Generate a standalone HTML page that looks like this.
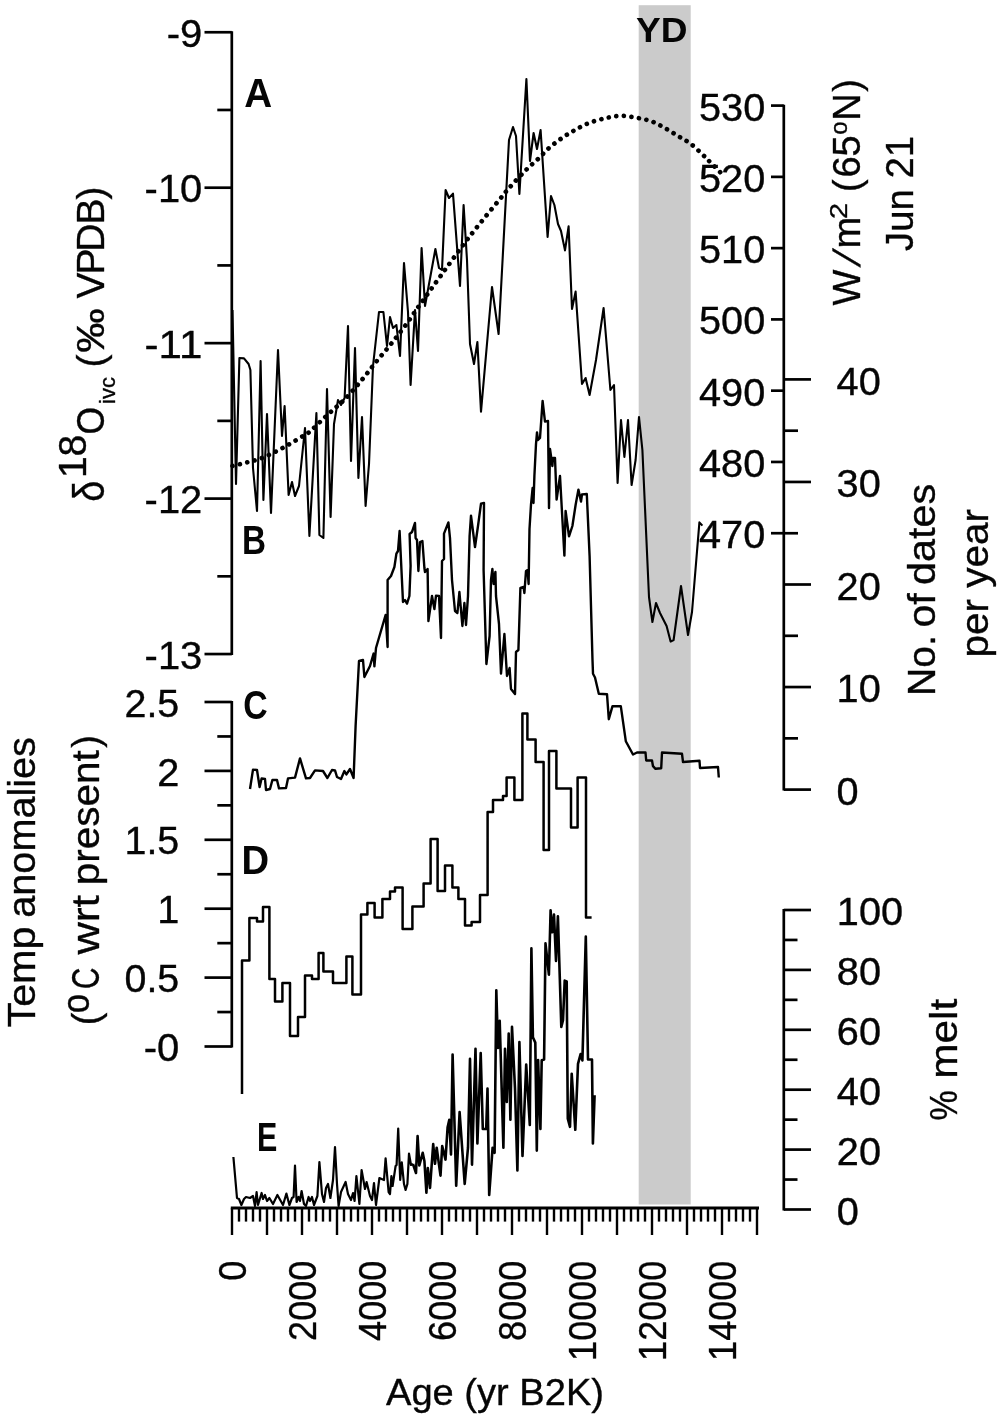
<!DOCTYPE html>
<html lang="en"><head><meta charset="utf-8"><title>Holocene climate records</title>
<style>html,body{margin:0;padding:0;background:#fff}svg{display:block}text{font-family:"Liberation Sans",sans-serif;fill:#050505;stroke:#050505;stroke-width:.35px}.b{stroke-width:0}.b{font-weight:bold}.ln{fill:none;stroke:#000;stroke-linejoin:round;stroke-linecap:butt}.ax{stroke:#000;stroke-width:2.7;fill:none;stroke-linecap:butt}</style>
</head><body>
<svg width="1000" height="1418" viewBox="0 0 1000 1418">
<rect width="1000" height="1418" fill="#fff"/>
<rect x="638.7" y="5.2" width="52" height="1199.3" fill="#cbcbcb"/>
<line class="ax" x1="231.80" y1="31.20" x2="231.80" y2="655.00"/>
<line class="ax" x1="204.50" y1="32.25" x2="231.80" y2="32.25"/>
<line class="ax" x1="217.30" y1="109.97" x2="231.80" y2="109.97"/>
<line class="ax" x1="204.50" y1="187.70" x2="231.80" y2="187.70"/>
<line class="ax" x1="217.30" y1="265.42" x2="231.80" y2="265.42"/>
<line class="ax" x1="204.50" y1="343.15" x2="231.80" y2="343.15"/>
<line class="ax" x1="217.30" y1="420.88" x2="231.80" y2="420.88"/>
<line class="ax" x1="204.50" y1="498.60" x2="231.80" y2="498.60"/>
<line class="ax" x1="217.30" y1="576.32" x2="231.80" y2="576.32"/>
<line class="ax" x1="204.50" y1="654.05" x2="231.80" y2="654.05"/>
<line class="ax" x1="231.80" y1="701.00" x2="231.80" y2="1047.60"/>
<line class="ax" x1="204.50" y1="702.00" x2="231.80" y2="702.00"/>
<line class="ax" x1="217.30" y1="736.45" x2="231.80" y2="736.45"/>
<line class="ax" x1="204.50" y1="770.90" x2="231.80" y2="770.90"/>
<line class="ax" x1="217.30" y1="805.35" x2="231.80" y2="805.35"/>
<line class="ax" x1="204.50" y1="839.80" x2="231.80" y2="839.80"/>
<line class="ax" x1="217.30" y1="874.25" x2="231.80" y2="874.25"/>
<line class="ax" x1="204.50" y1="908.70" x2="231.80" y2="908.70"/>
<line class="ax" x1="217.30" y1="943.15" x2="231.80" y2="943.15"/>
<line class="ax" x1="204.50" y1="977.60" x2="231.80" y2="977.60"/>
<line class="ax" x1="217.30" y1="1012.05" x2="231.80" y2="1012.05"/>
<line class="ax" x1="204.50" y1="1046.50" x2="231.80" y2="1046.50"/>
<line class="ax" x1="783.80" y1="104.80" x2="783.80" y2="790.50"/>
<line class="ax" x1="771.00" y1="105.60" x2="783.80" y2="105.60"/>
<line class="ax" x1="771.00" y1="176.87" x2="783.80" y2="176.87"/>
<line class="ax" x1="771.00" y1="248.14" x2="783.80" y2="248.14"/>
<line class="ax" x1="771.00" y1="319.41" x2="783.80" y2="319.41"/>
<line class="ax" x1="771.00" y1="390.68" x2="783.80" y2="390.68"/>
<line class="ax" x1="771.00" y1="461.95" x2="783.80" y2="461.95"/>
<line class="ax" x1="771.00" y1="533.22" x2="783.80" y2="533.22"/>
<line class="ax" x1="783.80" y1="379.40" x2="811.00" y2="379.40"/>
<line class="ax" x1="783.80" y1="430.70" x2="798.00" y2="430.70"/>
<line class="ax" x1="783.80" y1="481.95" x2="811.00" y2="481.95"/>
<line class="ax" x1="783.80" y1="533.25" x2="798.00" y2="533.25"/>
<line class="ax" x1="783.80" y1="584.50" x2="811.00" y2="584.50"/>
<line class="ax" x1="783.80" y1="635.80" x2="798.00" y2="635.80"/>
<line class="ax" x1="783.80" y1="687.05" x2="811.00" y2="687.05"/>
<line class="ax" x1="783.80" y1="738.35" x2="798.00" y2="738.35"/>
<line class="ax" x1="783.80" y1="789.60" x2="811.00" y2="789.60"/>
<line class="ax" x1="783.80" y1="909.00" x2="783.80" y2="1210.50"/>
<line class="ax" x1="783.80" y1="910.00" x2="811.00" y2="910.00"/>
<line class="ax" x1="783.80" y1="939.95" x2="797.50" y2="939.95"/>
<line class="ax" x1="783.80" y1="969.90" x2="811.00" y2="969.90"/>
<line class="ax" x1="783.80" y1="999.85" x2="797.50" y2="999.85"/>
<line class="ax" x1="783.80" y1="1029.80" x2="811.00" y2="1029.80"/>
<line class="ax" x1="783.80" y1="1059.75" x2="797.50" y2="1059.75"/>
<line class="ax" x1="783.80" y1="1089.70" x2="811.00" y2="1089.70"/>
<line class="ax" x1="783.80" y1="1119.65" x2="797.50" y2="1119.65"/>
<line class="ax" x1="783.80" y1="1149.60" x2="811.00" y2="1149.60"/>
<line class="ax" x1="783.80" y1="1179.55" x2="797.50" y2="1179.55"/>
<line class="ax" x1="783.80" y1="1209.50" x2="811.00" y2="1209.50"/>
<line x1="230.8" y1="1208" x2="759" y2="1208" stroke="#000" stroke-width="2.8"/>
<line x1="232.0" y1="1208" x2="232.0" y2="1235.0" stroke="#000" stroke-width="2.4"/>
<line x1="239.0" y1="1208" x2="239.0" y2="1221.6" stroke="#000" stroke-width="2.4"/>
<line x1="246.0" y1="1208" x2="246.0" y2="1221.6" stroke="#000" stroke-width="2.4"/>
<line x1="253.0" y1="1208" x2="253.0" y2="1221.6" stroke="#000" stroke-width="2.4"/>
<line x1="260.0" y1="1208" x2="260.0" y2="1221.6" stroke="#000" stroke-width="2.4"/>
<line x1="267.0" y1="1208" x2="267.0" y2="1235.0" stroke="#000" stroke-width="2.4"/>
<line x1="274.0" y1="1208" x2="274.0" y2="1221.6" stroke="#000" stroke-width="2.4"/>
<line x1="281.0" y1="1208" x2="281.0" y2="1221.6" stroke="#000" stroke-width="2.4"/>
<line x1="288.0" y1="1208" x2="288.0" y2="1221.6" stroke="#000" stroke-width="2.4"/>
<line x1="295.0" y1="1208" x2="295.0" y2="1221.6" stroke="#000" stroke-width="2.4"/>
<line x1="302.0" y1="1208" x2="302.0" y2="1235.0" stroke="#000" stroke-width="2.4"/>
<line x1="309.0" y1="1208" x2="309.0" y2="1221.6" stroke="#000" stroke-width="2.4"/>
<line x1="316.0" y1="1208" x2="316.0" y2="1221.6" stroke="#000" stroke-width="2.4"/>
<line x1="323.0" y1="1208" x2="323.0" y2="1221.6" stroke="#000" stroke-width="2.4"/>
<line x1="330.0" y1="1208" x2="330.0" y2="1221.6" stroke="#000" stroke-width="2.4"/>
<line x1="337.0" y1="1208" x2="337.0" y2="1235.0" stroke="#000" stroke-width="2.4"/>
<line x1="344.0" y1="1208" x2="344.0" y2="1221.6" stroke="#000" stroke-width="2.4"/>
<line x1="351.0" y1="1208" x2="351.0" y2="1221.6" stroke="#000" stroke-width="2.4"/>
<line x1="358.0" y1="1208" x2="358.0" y2="1221.6" stroke="#000" stroke-width="2.4"/>
<line x1="365.0" y1="1208" x2="365.0" y2="1221.6" stroke="#000" stroke-width="2.4"/>
<line x1="372.0" y1="1208" x2="372.0" y2="1235.0" stroke="#000" stroke-width="2.4"/>
<line x1="379.0" y1="1208" x2="379.0" y2="1221.6" stroke="#000" stroke-width="2.4"/>
<line x1="386.0" y1="1208" x2="386.0" y2="1221.6" stroke="#000" stroke-width="2.4"/>
<line x1="393.0" y1="1208" x2="393.0" y2="1221.6" stroke="#000" stroke-width="2.4"/>
<line x1="400.0" y1="1208" x2="400.0" y2="1221.6" stroke="#000" stroke-width="2.4"/>
<line x1="407.0" y1="1208" x2="407.0" y2="1235.0" stroke="#000" stroke-width="2.4"/>
<line x1="414.0" y1="1208" x2="414.0" y2="1221.6" stroke="#000" stroke-width="2.4"/>
<line x1="421.0" y1="1208" x2="421.0" y2="1221.6" stroke="#000" stroke-width="2.4"/>
<line x1="428.0" y1="1208" x2="428.0" y2="1221.6" stroke="#000" stroke-width="2.4"/>
<line x1="435.0" y1="1208" x2="435.0" y2="1221.6" stroke="#000" stroke-width="2.4"/>
<line x1="442.0" y1="1208" x2="442.0" y2="1235.0" stroke="#000" stroke-width="2.4"/>
<line x1="449.0" y1="1208" x2="449.0" y2="1221.6" stroke="#000" stroke-width="2.4"/>
<line x1="456.0" y1="1208" x2="456.0" y2="1221.6" stroke="#000" stroke-width="2.4"/>
<line x1="463.0" y1="1208" x2="463.0" y2="1221.6" stroke="#000" stroke-width="2.4"/>
<line x1="470.0" y1="1208" x2="470.0" y2="1221.6" stroke="#000" stroke-width="2.4"/>
<line x1="477.0" y1="1208" x2="477.0" y2="1235.0" stroke="#000" stroke-width="2.4"/>
<line x1="484.0" y1="1208" x2="484.0" y2="1221.6" stroke="#000" stroke-width="2.4"/>
<line x1="491.0" y1="1208" x2="491.0" y2="1221.6" stroke="#000" stroke-width="2.4"/>
<line x1="498.0" y1="1208" x2="498.0" y2="1221.6" stroke="#000" stroke-width="2.4"/>
<line x1="505.0" y1="1208" x2="505.0" y2="1221.6" stroke="#000" stroke-width="2.4"/>
<line x1="512.0" y1="1208" x2="512.0" y2="1235.0" stroke="#000" stroke-width="2.4"/>
<line x1="519.0" y1="1208" x2="519.0" y2="1221.6" stroke="#000" stroke-width="2.4"/>
<line x1="526.0" y1="1208" x2="526.0" y2="1221.6" stroke="#000" stroke-width="2.4"/>
<line x1="533.0" y1="1208" x2="533.0" y2="1221.6" stroke="#000" stroke-width="2.4"/>
<line x1="540.0" y1="1208" x2="540.0" y2="1221.6" stroke="#000" stroke-width="2.4"/>
<line x1="547.0" y1="1208" x2="547.0" y2="1235.0" stroke="#000" stroke-width="2.4"/>
<line x1="554.0" y1="1208" x2="554.0" y2="1221.6" stroke="#000" stroke-width="2.4"/>
<line x1="561.0" y1="1208" x2="561.0" y2="1221.6" stroke="#000" stroke-width="2.4"/>
<line x1="568.0" y1="1208" x2="568.0" y2="1221.6" stroke="#000" stroke-width="2.4"/>
<line x1="575.0" y1="1208" x2="575.0" y2="1221.6" stroke="#000" stroke-width="2.4"/>
<line x1="582.0" y1="1208" x2="582.0" y2="1235.0" stroke="#000" stroke-width="2.4"/>
<line x1="589.0" y1="1208" x2="589.0" y2="1221.6" stroke="#000" stroke-width="2.4"/>
<line x1="596.0" y1="1208" x2="596.0" y2="1221.6" stroke="#000" stroke-width="2.4"/>
<line x1="603.0" y1="1208" x2="603.0" y2="1221.6" stroke="#000" stroke-width="2.4"/>
<line x1="610.0" y1="1208" x2="610.0" y2="1221.6" stroke="#000" stroke-width="2.4"/>
<line x1="617.0" y1="1208" x2="617.0" y2="1235.0" stroke="#000" stroke-width="2.4"/>
<line x1="624.0" y1="1208" x2="624.0" y2="1221.6" stroke="#000" stroke-width="2.4"/>
<line x1="631.0" y1="1208" x2="631.0" y2="1221.6" stroke="#000" stroke-width="2.4"/>
<line x1="638.0" y1="1208" x2="638.0" y2="1221.6" stroke="#000" stroke-width="2.4"/>
<line x1="645.0" y1="1208" x2="645.0" y2="1221.6" stroke="#000" stroke-width="2.4"/>
<line x1="652.0" y1="1208" x2="652.0" y2="1235.0" stroke="#000" stroke-width="2.4"/>
<line x1="659.0" y1="1208" x2="659.0" y2="1221.6" stroke="#000" stroke-width="2.4"/>
<line x1="666.0" y1="1208" x2="666.0" y2="1221.6" stroke="#000" stroke-width="2.4"/>
<line x1="673.0" y1="1208" x2="673.0" y2="1221.6" stroke="#000" stroke-width="2.4"/>
<line x1="680.0" y1="1208" x2="680.0" y2="1221.6" stroke="#000" stroke-width="2.4"/>
<line x1="687.0" y1="1208" x2="687.0" y2="1235.0" stroke="#000" stroke-width="2.4"/>
<line x1="694.0" y1="1208" x2="694.0" y2="1221.6" stroke="#000" stroke-width="2.4"/>
<line x1="701.0" y1="1208" x2="701.0" y2="1221.6" stroke="#000" stroke-width="2.4"/>
<line x1="708.0" y1="1208" x2="708.0" y2="1221.6" stroke="#000" stroke-width="2.4"/>
<line x1="715.0" y1="1208" x2="715.0" y2="1221.6" stroke="#000" stroke-width="2.4"/>
<line x1="722.0" y1="1208" x2="722.0" y2="1235.0" stroke="#000" stroke-width="2.4"/>
<line x1="729.0" y1="1208" x2="729.0" y2="1221.6" stroke="#000" stroke-width="2.4"/>
<line x1="736.0" y1="1208" x2="736.0" y2="1221.6" stroke="#000" stroke-width="2.4"/>
<line x1="743.0" y1="1208" x2="743.0" y2="1221.6" stroke="#000" stroke-width="2.4"/>
<line x1="750.0" y1="1208" x2="750.0" y2="1221.6" stroke="#000" stroke-width="2.4"/>
<line x1="757.0" y1="1208" x2="757.0" y2="1235.0" stroke="#000" stroke-width="2.4"/>
<path class="ln" d="M232.5,466.0C234.9,465.4 242.1,463.7 247.0,462.4C251.9,461.1 257.0,459.9 262.0,458.0C267.0,456.1 272.3,453.4 277.0,451.0C281.7,448.6 285.7,446.3 290.0,443.8C294.3,441.3 299.7,438.1 303.0,436.0C306.3,433.9 306.8,434.2 310.0,431.5C313.2,428.8 318.0,423.8 322.0,420.0C326.0,416.2 330.2,412.5 334.0,409.0C337.8,405.5 340.5,403.7 345.0,399.0C349.5,394.3 355.8,387.2 361.0,381.0C366.2,374.8 371.0,368.2 376.0,362.0C381.0,355.8 386.2,350.0 391.0,344.0C395.8,338.0 400.3,332.3 405.0,326.0C409.7,319.7 412.8,314.7 419.0,306.0C425.2,297.3 433.5,285.7 442.0,274.0C450.5,262.3 460.3,248.5 470.0,236.0C479.7,223.5 493.3,207.2 500.0,199.0C506.7,190.8 505.7,191.8 510.0,187.0C514.3,182.2 521.3,174.7 526.0,170.0C530.7,165.3 534.2,162.7 538.0,159.0C541.8,155.3 545.0,151.5 549.0,148.0C553.0,144.5 557.7,141.0 562.0,138.0C566.3,135.0 570.5,132.5 575.0,130.0C579.5,127.5 584.0,125.0 589.0,123.0C594.0,121.0 599.8,119.5 605.0,118.3C610.2,117.1 615.3,115.9 620.5,115.8C625.7,115.7 631.0,116.8 636.0,117.7C641.0,118.6 645.8,119.4 650.5,121.0C655.2,122.6 659.4,125.0 664.0,127.5C668.6,130.0 673.5,133.2 678.0,136.0C682.5,138.8 686.8,140.8 691.0,144.0C695.2,147.2 699.8,152.0 703.0,155.0C706.2,158.0 707.2,159.2 710.0,162.0C712.8,164.8 717.4,169.4 719.6,171.6C721.8,173.8 722.4,174.7 723.0,175.3" stroke-width="4.7" stroke-dasharray="0.01 7.6" style="stroke-linecap:round"/>
<polyline class="ln" stroke-width="2.1" points="232.5,310.0 236.0,484.0 239.4,358.0 244.0,358.4 248.6,364.0 250.4,370.0 253.0,468.0 257.0,511.0 260.6,361.0 263.4,500.0 267.0,414.0 271.0,513.0 278.0,350.0 282.0,436.0 284.6,406.0 288.6,495.0 292.0,482.0 295.0,496.0 299.0,486.0 305.0,428.0 309.4,536.0 316.4,413.0 319.4,535.0 323.4,538.0 327.0,389.0 330.6,517.0 334.0,424.0 338.0,400.0 341.0,405.0 344.6,398.0 348.0,326.0 351.0,461.0 355.0,348.0 358.4,478.0 362.0,417.0 365.6,506.0 369.0,464.0 373.0,366.0 379.0,312.0 383.4,312.0 387.0,346.0 390.0,317.0 393.0,328.0 396.4,325.0 400.0,356.0 404.0,263.0 408.0,312.0 410.6,385.0 415.0,310.0 418.0,351.0 421.6,248.0 425.0,306.0 435.4,249.0 439.0,268.0 442.0,270.0 445.6,190.0 449.0,198.0 453.0,193.6 460.0,286.0 463.6,205.0 467.0,260.0 470.0,344.0 474.0,364.0 477.4,342.0 481.0,411.6 492.0,287.0 498.6,334.0 509.0,140.0 513.0,127.0 516.0,136.0 519.4,194.0 526.4,79.0 530.0,161.0 533.6,133.0 537.0,149.0 540.6,130.0 547.6,237.0 551.0,196.0 554.4,205.0 558.0,224.0 561.0,231.0 565.0,250.4 568.6,226.4 572.0,309.0 575.6,291.6 582.0,384.0 585.6,378.0 589.6,395.0 596.0,360.0 603.6,308.0 610.4,390.0 614.0,385.0 617.6,483.0 621.0,420.0 624.4,457.0 628.0,420.0 631.6,485.0 635.6,460.0 639.0,417.0 642.4,450.0 649.0,597.0 652.4,622.0 656.0,603.0 660.0,613.0 666.6,626.0 670.6,641.6 673.6,640.0 681.0,586.0 688.0,635.0 692.0,612.0 699.4,522.4 702.4,525.6"/>
<polyline class="ln" stroke-width="2.4" points="250.0,789.0 253.0,769.6 257.0,770.0 259.6,787.0 261.6,778.4 265.0,779.0 266.0,790.0 270.0,789.0 272.4,780.0 277.0,780.0 279.0,788.4 286.0,788.0 288.0,778.4 295.0,777.6 300.0,758.4 306.0,778.4 310.0,778.0 315.0,770.4 323.0,771.0 327.4,778.0 332.0,770.0 335.0,770.4 337.0,777.0 341.0,779.0 344.4,771.0 346.4,774.4 350.0,769.0 353.6,778.0 355.6,726.0 359.0,661.0 363.0,660.0 364.4,677.0 370.0,666.0 373.6,653.6 374.4,666.4 376.0,648.0 385.6,615.0 387.6,647.0 387.6,580.0 391.0,576.0 394.4,567.0 396.4,553.6 398.0,551.0 399.6,531.0 403.0,602.0 405.0,600.0 407.0,603.6 409.4,596.0 410.6,566.0 409.6,534.0 412.0,532.0 415.0,523.0 415.6,538.0 417.0,540.0 418.4,571.0 420.0,542.0 422.4,541.0 424.4,568.0 425.0,572.0 427.6,569.0 428.4,621.0 432.0,596.0 434.4,609.0 436.0,595.6 439.0,596.0 441.0,638.0 442.0,561.0 444.0,559.0 444.0,533.6 448.4,522.4 450.0,538.0 452.0,580.0 455.0,611.0 457.4,613.0 459.4,592.0 462.4,626.0 464.4,603.0 466.0,625.0 468.0,596.0 469.6,536.0 471.0,515.6 475.0,547.0 478.0,526.0 481.0,503.6 484.0,503.0 483.6,570.0 486.4,664.0 489.6,636.0 491.0,580.0 492.4,569.0 493.6,584.0 495.4,572.0 496.0,596.0 499.0,624.0 501.0,673.6 504.4,634.0 507.0,676.0 509.6,668.0 511.0,689.0 515.0,694.0 516.0,652.0 518.4,650.0 520.4,588.0 523.6,587.0 524.4,593.0 526.0,571.0 527.6,570.0 528.6,584.0 529.5,529.0 531.0,504.5 532.6,488.0 533.5,503.0 534.4,476.0 536.0,444.0 537.0,432.4 538.0,440.0 540.0,438.0 542.6,401.0 545.0,421.6 548.0,421.0 549.0,508.0 550.0,449.0 552.4,466.0 553.0,458.0 555.0,458.0 556.6,499.6 560.0,476.0 564.4,555.6 565.6,511.0 569.0,536.4 572.4,526.0 575.6,505.0 578.4,489.6 581.0,501.6 582.0,494.4 586.8,494.0 589.6,556.0 592.5,660.0 593.0,673.8 595.0,677.5 598.8,693.8 607.0,694.2 608.8,719.2 612.5,706.2 620.8,706.2 625.8,741.2 633.0,754.5 637.0,752.5 645.5,752.5 646.2,760.5 652.0,760.5 653.0,766.2 655.5,768.8 661.2,768.2 662.0,752.5 682.0,753.8 683.0,762.0 699.5,760.8 700.0,768.0 718.0,767.0 718.8,777.5"/>
<polyline class="ln" stroke-width="2.5" stroke-linejoin="miter" points="242.0,1094.0 242.0,960.4 249.4,960.4 249.4,918.0 257.0,918.0 257.0,921.6 263.0,921.6 263.0,907.0 269.4,907.0 269.4,979.0 275.0,979.0 275.0,1001.6 282.4,1001.6 282.4,983.0 290.0,983.0 290.0,1036.0 298.0,1036.0 298.0,1017.0 305.0,1017.0 305.0,975.6 312.0,975.6 312.0,979.0 318.6,979.0 318.6,953.0 323.4,953.0 323.4,971.4 333.0,971.4 333.0,983.0 346.4,983.0 346.4,956.6 352.4,956.6 352.4,994.4 361.0,994.4 361.0,914.4 367.4,914.4 367.4,903.0 374.6,903.0 374.6,917.6 382.4,917.6 382.4,899.0 390.0,899.0 390.0,891.6 395.0,891.6 395.0,887.6 402.6,887.6 402.6,929.0 412.4,929.0 412.4,906.4 423.6,906.4 423.6,883.6 430.6,883.6 430.6,839.0 437.6,839.0 437.6,891.0 445.0,891.0 445.0,865.4 452.4,865.4 452.4,887.6 458.4,887.6 458.4,899.0 465.0,899.0 465.0,925.6 471.6,925.6 471.6,922.0 480.0,922.0 480.0,895.0 487.6,895.0 487.6,812.0 493.0,812.0 493.0,800.0 503.0,800.0 503.0,796.0 506.6,796.0 506.6,777.4 514.4,777.4 514.4,800.0 522.4,800.0 522.4,713.6 527.4,713.6 527.4,739.6 535.6,739.6 535.6,762.0 543.6,762.0 543.6,850.0 549.0,850.0 549.0,751.0 556.4,751.0 556.4,788.6 571.0,788.6 571.0,827.6 577.6,827.6 577.6,777.4 586.0,777.4 586.0,917.6 591.6,917.6"/>
<polyline class="ln" stroke-width="2.2" points="233.4,1157.0 237.0,1198.0 239.0,1199.0 241.4,1205.0 244.0,1199.0 246.0,1197.0 250.0,1198.0 253.0,1196.0 255.0,1206.0 256.6,1192.0 258.0,1205.0 261.6,1193.0 263.0,1199.0 265.0,1195.0 267.0,1201.0 269.4,1198.0 273.0,1204.0 277.4,1195.0 283.0,1205.0 286.4,1193.6 289.4,1205.0 292.0,1198.0 293.6,1197.0 295.0,1165.6 296.6,1202.0 298.6,1197.0 300.0,1201.0 301.6,1191.0 304.0,1204.0 306.0,1206.0 308.6,1197.0 310.0,1201.0 312.0,1197.0 314.0,1205.0 317.4,1196.0 319.4,1162.0 322.0,1194.0 324.0,1202.0 326.0,1188.0 328.0,1184.0 330.4,1198.0 333.0,1180.0 335.0,1147.0 337.0,1184.0 338.6,1206.0 341.0,1192.0 345.6,1182.0 348.0,1194.0 351.0,1200.0 353.0,1193.0 354.6,1201.0 356.4,1176.0 359.4,1204.0 361.6,1170.0 365.0,1189.0 366.6,1182.0 370.0,1196.0 372.0,1200.0 374.0,1183.0 376.0,1205.0 379.4,1178.0 384.0,1180.0 385.6,1158.4 388.6,1192.0 390.0,1194.0 391.4,1176.0 392.6,1186.0 395.6,1166.0 396.6,1165.0 398.2,1128.6 400.2,1180.0 401.8,1162.4 404.0,1184.0 405.6,1190.0 407.4,1184.0 409.0,1153.6 411.0,1165.0 413.0,1164.0"/>
<polyline class="ln" stroke-width="2.6" points="413.0,1164.0 416.0,1173.0 417.6,1136.0 419.3,1165.5 422.7,1152.8 424.4,1161.0 426.4,1192.6 427.8,1168.0 430.0,1188.0 433.2,1144.0 435.0,1163.8 436.7,1147.7 440.5,1175.6 442.2,1146.0 445.5,1159.6 447.6,1127.4 449.3,1119.8 451.0,1154.5 452.6,1054.6 456.2,1185.8 459.6,1112.0 464.7,1184.0 468.0,1147.7 470.0,1058.9 472.0,1164.6 475.5,1048.7 477.4,1143.5 480.7,1053.0 482.8,1129.0 486.2,1129.0 487.5,1088.5 489.2,1195.0 492.6,1147.7 494.6,1152.8 496.3,990.3 498.0,1047.9 499.7,1020.8 503.4,1147.7 505.0,1048.7 506.8,1102.0 508.7,1033.5 510.4,1119.8 512.0,1026.7 515.0,1088.5 517.4,1170.4 519.4,1042.0 522.5,1156.0 526.2,1064.6 529.8,1125.0 531.4,948.4 532.9,1037.3 535.3,1042.6 536.8,1150.6 538.1,1060.0 540.4,1129.0 541.7,1060.3 544.1,1059.5 545.5,943.3 548.9,974.6 550.6,910.3 552.3,932.3 554.0,914.5 556.0,961.0 557.9,916.2 561.3,1027.0 563.0,1020.3 564.7,980.6 566.7,981.4 567.8,1118.7 570.0,1126.8 571.7,1073.7 575.3,1129.8 578.0,1063.9 580.6,1054.1 582.4,1060.4 585.8,936.5 588.0,1059.5 592.0,1059.5 592.9,1143.5 594.6,1095.2"/>
<text x="202.3" y="46.85" font-size="38.3" text-anchor="end" textLength="35.6" lengthAdjust="spacingAndGlyphs">-9</text>
<text x="202.3" y="202.29" font-size="38.3" text-anchor="end" textLength="57.7" lengthAdjust="spacingAndGlyphs">-10</text>
<text x="202.3" y="357.73" font-size="38.3" text-anchor="end" textLength="57.7" lengthAdjust="spacingAndGlyphs">-11</text>
<text x="202.3" y="513.17" font-size="38.3" text-anchor="end" textLength="57.7" lengthAdjust="spacingAndGlyphs">-12</text>
<text x="202.3" y="668.61" font-size="38.3" text-anchor="end" textLength="57.7" lengthAdjust="spacingAndGlyphs">-13</text>
<text x="179.3" y="716.8000000000001" font-size="38.3" text-anchor="end" textLength="54.8" lengthAdjust="spacingAndGlyphs">2.5</text>
<text x="179.3" y="785.6" font-size="38.3" text-anchor="end" textLength="22.1" lengthAdjust="spacingAndGlyphs">2</text>
<text x="179.3" y="854.4000000000001" font-size="38.3" text-anchor="end" textLength="54.8" lengthAdjust="spacingAndGlyphs">1.5</text>
<text x="179.3" y="923.2" font-size="38.3" text-anchor="end" textLength="22.1" lengthAdjust="spacingAndGlyphs">1</text>
<text x="179.3" y="992.0" font-size="38.3" text-anchor="end" textLength="54.8" lengthAdjust="spacingAndGlyphs">0.5</text>
<text x="179.3" y="1060.8" font-size="38.3" text-anchor="end" textLength="35.6" lengthAdjust="spacingAndGlyphs">-0</text>
<text x="699" y="120.5" font-size="38.3" textLength="66.3" lengthAdjust="spacingAndGlyphs">530</text>
<text x="699" y="191.77" font-size="38.3" textLength="66.3" lengthAdjust="spacingAndGlyphs">520</text>
<text x="699" y="263.03999999999996" font-size="38.3" textLength="66.3" lengthAdjust="spacingAndGlyphs">510</text>
<text x="699" y="334.30999999999995" font-size="38.3" textLength="66.3" lengthAdjust="spacingAndGlyphs">500</text>
<text x="699" y="405.5799999999999" font-size="38.3" textLength="66.3" lengthAdjust="spacingAndGlyphs">490</text>
<text x="699" y="476.8499999999999" font-size="38.3" textLength="66.3" lengthAdjust="spacingAndGlyphs">480</text>
<text x="699" y="548.12" font-size="38.3" textLength="66.3" lengthAdjust="spacingAndGlyphs">470</text>
<text x="836.6" y="394.79999999999995" font-size="38.3" textLength="44.2" lengthAdjust="spacingAndGlyphs">40</text>
<text x="836.6" y="497.34999999999997" font-size="38.3" textLength="44.2" lengthAdjust="spacingAndGlyphs">30</text>
<text x="836.6" y="599.9" font-size="38.3" textLength="44.2" lengthAdjust="spacingAndGlyphs">20</text>
<text x="836.6" y="702.4499999999999" font-size="38.3" textLength="44.2" lengthAdjust="spacingAndGlyphs">10</text>
<text x="836.6" y="804.9999999999999" font-size="38.3" textLength="22.1" lengthAdjust="spacingAndGlyphs">0</text>
<text x="836.8" y="925.2" font-size="38.3" textLength="66.3" lengthAdjust="spacingAndGlyphs">100</text>
<text x="836.8" y="985.1" font-size="38.3" textLength="44.2" lengthAdjust="spacingAndGlyphs">80</text>
<text x="836.8" y="1045.0" font-size="38.3" textLength="44.2" lengthAdjust="spacingAndGlyphs">60</text>
<text x="836.8" y="1104.9" font-size="38.3" textLength="44.2" lengthAdjust="spacingAndGlyphs">40</text>
<text x="836.8" y="1164.8" font-size="38.3" textLength="44.2" lengthAdjust="spacingAndGlyphs">20</text>
<text x="836.8" y="1224.7" font-size="38.3" textLength="22.1" lengthAdjust="spacingAndGlyphs">0</text>
<text x="245.6" y="1260.7" font-size="38.3" text-anchor="end" transform="rotate(-90 245.6 1260.7)" textLength="20.1" lengthAdjust="spacingAndGlyphs">0</text>
<text x="315.6" y="1260.7" font-size="38.3" text-anchor="end" transform="rotate(-90 315.6 1260.7)" textLength="80.2" lengthAdjust="spacingAndGlyphs">2000</text>
<text x="385.6" y="1260.7" font-size="38.3" text-anchor="end" transform="rotate(-90 385.6 1260.7)" textLength="80.2" lengthAdjust="spacingAndGlyphs">4000</text>
<text x="455.6" y="1260.7" font-size="38.3" text-anchor="end" transform="rotate(-90 455.6 1260.7)" textLength="80.2" lengthAdjust="spacingAndGlyphs">6000</text>
<text x="525.6" y="1260.7" font-size="38.3" text-anchor="end" transform="rotate(-90 525.6 1260.7)" textLength="80.2" lengthAdjust="spacingAndGlyphs">8000</text>
<text x="595.6" y="1260.7" font-size="38.3" text-anchor="end" transform="rotate(-90 595.6 1260.7)" textLength="100.2" lengthAdjust="spacingAndGlyphs">10000</text>
<text x="665.6" y="1260.7" font-size="38.3" text-anchor="end" transform="rotate(-90 665.6 1260.7)" textLength="100.2" lengthAdjust="spacingAndGlyphs">12000</text>
<text x="735.6" y="1260.7" font-size="38.3" text-anchor="end" transform="rotate(-90 735.6 1260.7)" textLength="100.2" lengthAdjust="spacingAndGlyphs">14000</text>
<text x="386" y="1404.5" font-size="37.5" textLength="218" lengthAdjust="spacingAndGlyphs">Age (yr B2K)</text>
<text x="244.2" y="106.8" font-size="40" class="b" textLength="27.9" lengthAdjust="spacingAndGlyphs">A</text>
<text x="241.9" y="554" font-size="40" class="b" textLength="24" lengthAdjust="spacingAndGlyphs">B</text>
<text x="243.3" y="718.6" font-size="41" class="b" textLength="24.4" lengthAdjust="spacingAndGlyphs">C</text>
<text x="241.5" y="873.7" font-size="40" class="b" textLength="27.6" lengthAdjust="spacingAndGlyphs">D</text>
<text x="256.9" y="1150.5" font-size="40" class="b" textLength="20.3" lengthAdjust="spacingAndGlyphs">E</text>
<text x="636" y="42.2" font-size="35.5" class="b" textLength="51.5" lengthAdjust="spacingAndGlyphs">YD</text>
<g transform="translate(104 500) rotate(-90)">
<text transform="translate(-1.8 0) scale(0.86 1)" x="0" y="0" font-size="44">δ</text>
<text y="-18.5" font-size="39" x="22 43.6">18</text>
<text x="65.6" y="0" font-size="39" textLength="27.6" lengthAdjust="spacingAndGlyphs">O</text>
<text x="96" y="10.6" font-size="22">ivc</text>
<text y="0" font-size="39" x="132.5">(</text>
<text y="0" font-size="39" x="147.2" textLength="44.5" lengthAdjust="spacingAndGlyphs">‰</text>
<text y="0" font-size="39" x="201.5 225.5 248.2 275.4 300.6">VPDB)</text>
</g>
<g transform="translate(34.8 1027) rotate(-90)">
<text x="-0.5" y="0" font-size="38" textLength="101" lengthAdjust="spacingAndGlyphs">Temp</text>
<text x="109.3" y="0" font-size="38" textLength="180.6" lengthAdjust="spacingAndGlyphs">anomalies</text>
</g>
<g transform="translate(98.8 1025) rotate(-90)">
<text x="-0.2" y="0" font-size="38">(</text>
<text x="11.8" y="-10.2" font-size="38" textLength="19.2" lengthAdjust="spacingAndGlyphs">o</text>
<text x="35.9" y="0" font-size="38" textLength="21.4" lengthAdjust="spacingAndGlyphs">C</text>
<text x="70.4" y="0" font-size="38" textLength="59.6" lengthAdjust="spacingAndGlyphs">wrt</text>
<text x="139.8" y="0" font-size="38" textLength="135" lengthAdjust="spacingAndGlyphs">present</text>
<text x="277.2" y="0" font-size="38">)</text>
</g>
<g transform="translate(859.5 306) rotate(-90)">
<text x="0.5" y="0" font-size="38">W</text>
<text transform="translate(38.4 0) skewX(-18)" x="0" y="0" font-size="38">/</text>
<text x="57.5" y="0" font-size="38">m</text>
<text x="87" y="-13" font-size="24" textLength="16" lengthAdjust="spacingAndGlyphs">2</text>
<text y="0" font-size="38" x="114 128.6 149.4">(65</text>
<text x="171.3" y="-13" font-size="24">o</text>
<text y="0" font-size="38" x="185.3 214.2">N)</text>
</g>
<text x="912.8" y="251" font-size="38" transform="rotate(-90 912.8 251)" textLength="115" lengthAdjust="spacingAndGlyphs">Jun 21</text>
<g transform="translate(934.6 696) rotate(-90)">
<text x="0" y="0" font-size="38" textLength="60.9" lengthAdjust="spacingAndGlyphs">No.</text>
<text x="68.5" y="0" font-size="38" textLength="34.3" lengthAdjust="spacingAndGlyphs">of</text>
<text x="111" y="0" font-size="38" textLength="101.2" lengthAdjust="spacingAndGlyphs">dates</text>
</g>
<text x="988" y="657.5" font-size="38" transform="rotate(-90 988 657.5)" textLength="148.5" lengthAdjust="spacingAndGlyphs">per year</text>
<g transform="translate(956.8 1120.5) rotate(-90)">
<text x="0" y="0" font-size="38" textLength="30.3" lengthAdjust="spacingAndGlyphs">%</text>
<text x="41.8" y="0" font-size="38" textLength="80" lengthAdjust="spacingAndGlyphs">melt</text>
</g>
</svg></body></html>
